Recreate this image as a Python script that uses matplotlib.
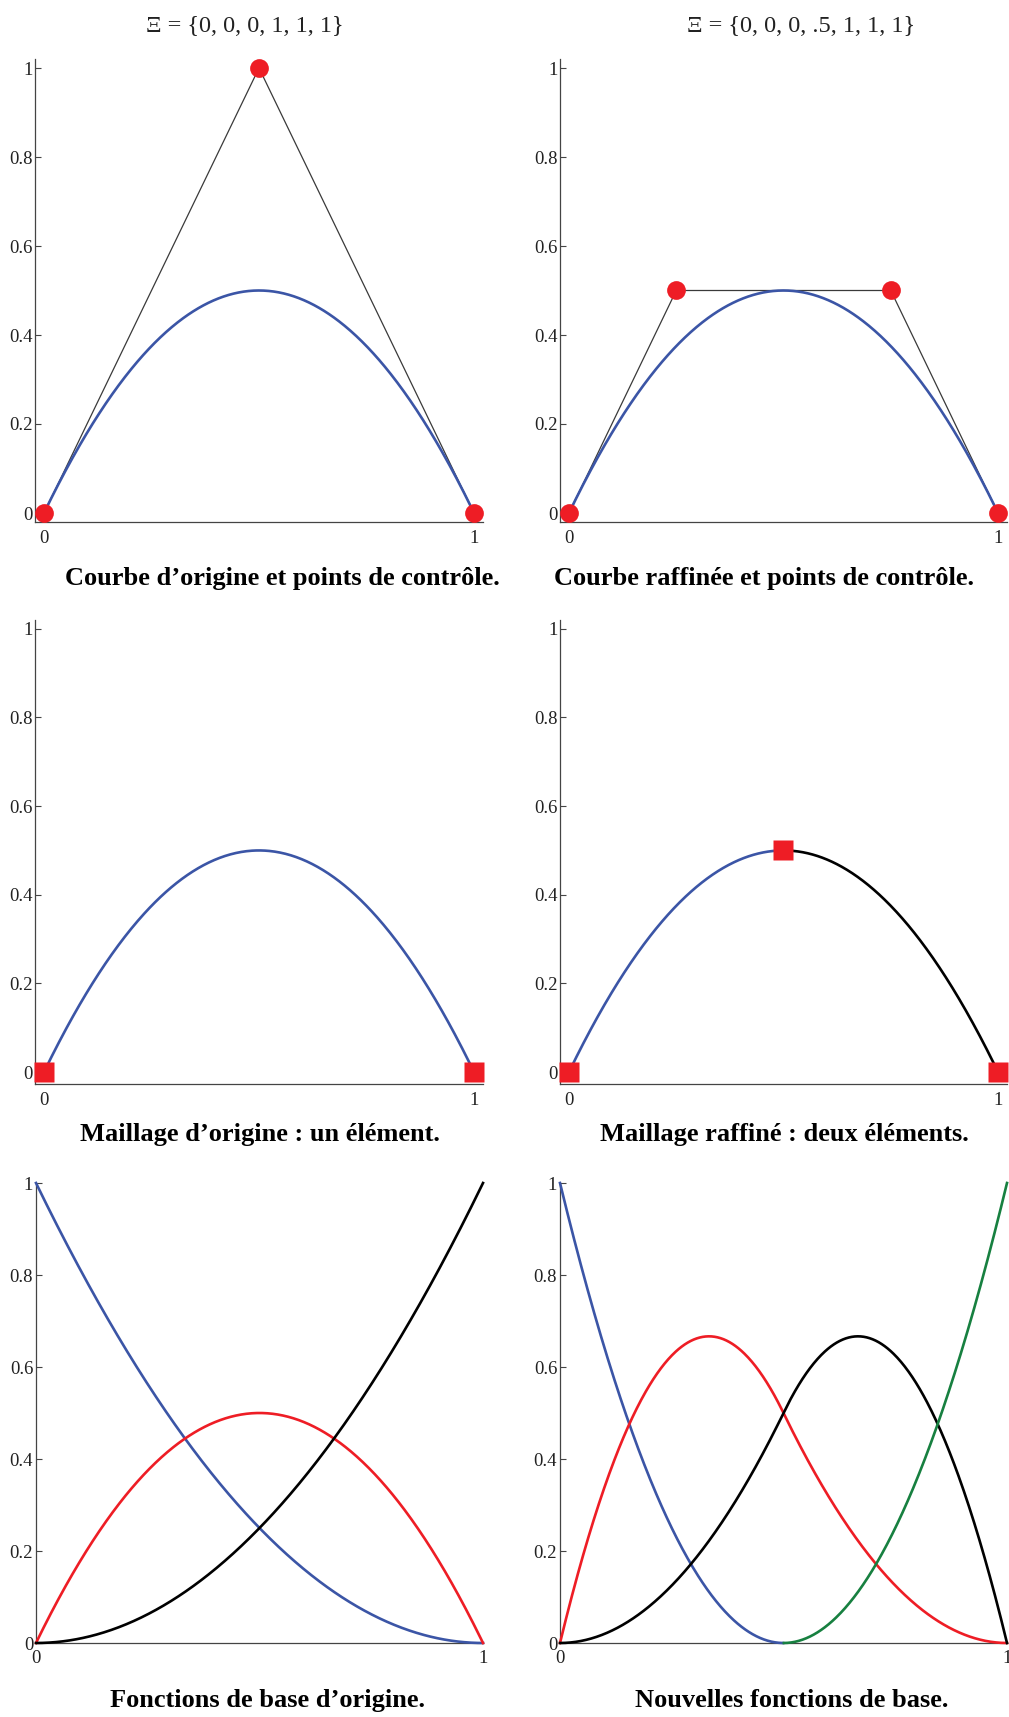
import numpy as np
import matplotlib
matplotlib.use("Agg")
import matplotlib.pyplot as plt

# ---- data ---------------------------------------------------------------
degree = 2
knots_orig = [0, 0, 0, 1, 1, 1]
knots_ref = [0, 0, 0, 0.5, 1, 1, 1]

ctrl_x_orig = [0, 0.5, 1]
ctrl_y_orig = [0, 1, 0]
ctrl_x_ref = [0, 0.25, 0.75, 1]
ctrl_y_ref = [0, 0.5, 0.5, 0]

y_ticks = [0, 0.2, 0.4, 0.6, 0.8, 1]
y_tick_labels = ["0", "0.2", "0.4", "0.6", "0.8", "1"]
x_ticks = [0, 1]
x_tick_labels = ["0", "1"]

titles = ["Ξ = {0, 0, 0, 1, 1, 1}", "Ξ = {0, 0, 0, .5, 1, 1, 1}"]
captions = [
    ["Courbe d’origine et points de contrôle.", "Courbe raffinée et points de contrôle."],
    ["Maillage d’origine : un élément.", "Maillage raffiné : deux éléments."],
    ["Fonctions de base d’origine.", "Nouvelles fonctions de base."],
]

# ---- style ----------------------------------------------------------------
BLUE = "#3b55a6"
RED = "#ee1d25"
BLACK = "#000000"
GREEN = "#178040"
POLY = "#3a3a3a"
AXIS = "#444444"

basis_colors_orig = [BLUE, RED, BLACK]
basis_colors_ref = [BLUE, RED, BLACK, GREEN]
element_colors_orig = [BLUE]
element_colors_ref = [BLUE, BLACK]

SERIF = ["Liberation Serif", "DejaVu Serif"]
plt.rcParams["font.family"] = SERIF

W, H = 1009, 1717
fig = plt.figure(figsize=(W / 100, H / 100), dpi=100)


def bspline_basis(knots, p, t):
    """Cox-de Boor recursion; returns array (n_basis, len(t))."""
    k = np.asarray(knots, float)
    t = np.asarray(t, float)
    m = len(k) - 1
    N = np.zeros((m, t.size))
    spans = [i for i in range(m) if k[i] < k[i + 1]]
    for i in spans:
        N[i] = (t >= k[i]) & (t < k[i + 1])
    N[spans[-1], t == k[-1]] = 1.0
    for d in range(1, p + 1):
        Nd = np.zeros((m - d, t.size))
        for i in range(m - d):
            d1 = k[i + d] - k[i]
            d2 = k[i + d + 1] - k[i + 1]
            a = (t - k[i]) / d1 * N[i] if d1 > 0 else 0.0
            b = (k[i + d + 1] - t) / d2 * N[i + 1] if d2 > 0 else 0.0
            Nd[i] = a + b
        N = Nd
    return N


def curve(knots, cx, cy, t):
    N = bspline_basis(knots, degree, t)
    return N.T @ np.asarray(cx, float), N.T @ np.asarray(cy, float)


def make_axes(left, top, right, bottom, xlim, ylim, xpad):
    ax = fig.add_axes([left / W, 1 - bottom / H, (right - left) / W, (bottom - top) / H])
    ax.set_xlim(*xlim)
    ax.set_ylim(*ylim)
    for s in ("top", "right"):
        ax.spines[s].set_visible(False)
    for s in ("left", "bottom"):
        ax.spines[s].set_color(AXIS)
        ax.spines[s].set_linewidth(0.9)
    ax.set_yticks(y_ticks)
    ax.set_yticklabels(y_tick_labels)
    ax.set_xticks(x_ticks)
    ax.set_xticklabels(x_tick_labels)
    ax.tick_params(axis="y", direction="in", length=4, width=0.8, color=AXIS,
                   pad=2, labelsize=13.5, labelcolor="#222222")
    ax.tick_params(axis="x", direction="in", length=0, width=0.8, color=AXIS,
                   pad=xpad, labelsize=13.5, labelcolor="#222222")
    ax.patch.set_alpha(0)
    return ax


cols = [(35.4, 482.6), (560.4, 1006.6)]
cols_b = [(36, 483), (560, 1007)]
title_x = [245, 801]

t = np.linspace(0, 1, 600)
knot_sets = [knots_orig, knots_ref]
ctrl_sets = [(ctrl_x_orig, ctrl_y_orig), (ctrl_x_ref, ctrl_y_ref)]
basis_colors = [basis_colors_orig, basis_colors_ref]
element_colors = [element_colors_orig, element_colors_ref]

for c in range(2):
    knots = knot_sets[c]
    cx, cy = ctrl_sets[c]
    xs, ys = curve(knots, cx, cy, t)

    # row 1: curve with its control polygon
    ax = make_axes(cols[c][0], 59.1, cols[c][1], 521.9, (-0.02, 1.02), (-0.02, 1.02), 6)
    ax.plot(cx, cy, color=POLY, lw=0.9, zorder=2)
    ax.plot(xs, ys, color=BLUE, lw=1.9, zorder=3)
    ax.plot(cx, cy, "o", color=RED, ms=13.5, mec="none", zorder=4, clip_on=False)
    fig.text(title_x[c] / W, 1 - 26 / H, titles[c],
             ha="center", va="center", fontsize=17.5, color="#222222")

    # row 2: physical mesh (elements between unique knots)
    ax = make_axes(cols[c][0], 620, cols[c][1], 1084, (-0.02, 1.02), (-0.027, 1.02), 6)
    nodes = sorted(set(knots))
    for e in range(len(nodes) - 1):
        te = np.linspace(nodes[e], nodes[e + 1], 400)
        ex, ey = curve(knots, cx, cy, te)
        ax.plot(ex, ey, color=element_colors[c][e], lw=1.9, zorder=3)
    nx, ny = curve(knots, cx, cy, np.array(nodes))
    ax.plot(nx, ny, "s", color=RED, ms=15, mec="none", zorder=4, clip_on=False)

    # row 3: basis functions
    ax = make_axes(cols_b[c][0], 1183, cols_b[c][1], 1643, (0, 1), (0, 1), 5)
    N = bspline_basis(knots, degree, t)
    for i in range(N.shape[0]):
        lo, hi = knots[i], knots[i + degree + 1]
        m = (t >= lo) & (t <= hi)
        ax.plot(t[m], N[i][m], color=basis_colors[c][i], lw=1.9, zorder=3,
                clip_on=False)

# captions under each panel
cap_x = [[282, 764], [260, 784], [267, 792]]
cap_y = [578, 1134, 1700]
for r in range(3):
    for c in range(2):
        fig.text(cap_x[r][c] / W, 1 - cap_y[r] / H, captions[r][c], ha="center",
                 va="center", fontsize=19, fontweight="bold", color="black")

fig.savefig("out.png", dpi=100, facecolor="white")
